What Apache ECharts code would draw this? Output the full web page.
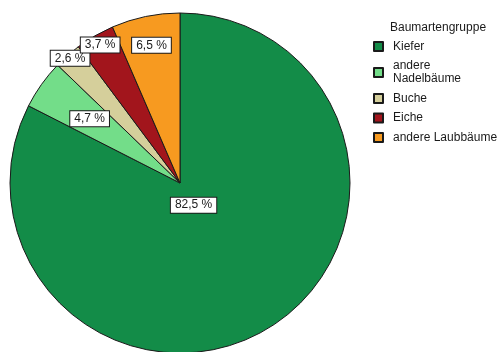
<!DOCTYPE html>
<html>
<head>
<meta charset="utf-8">
<script src="https://cdn.jsdelivr.net/npm/echarts@6/dist/echarts.min.js"></script>
<style>
  html, body { margin: 0; padding: 0; background: #fff; }
  #chart { width: 499px; height: 352px; }
</style>
</head>
<body>
<div id="chart"></div>
<script>
// Tree species group shares (percent)
const categories = ['Kiefer', 'andere Nadelbäume', 'Buche', 'Eiche', 'andere Laubbäume'];
const shares = [82.5, 4.7, 2.6, 3.7, 6.5];
const legendTitle = 'Baumartengruppe';

// Slice colours and how far out (fraction of radius) each value label sits
const sliceColors = ['#138c48', '#73dd89', '#d5cf9b', '#a2151c', '#f79a20'];
const labelReach = [0.135, 0.635, 0.96, 0.92, 0.81];

const R = 170;
const total = shares.reduce((a, b) => a + b, 0);

let acc = 0;
const pieData = categories.map((name, i) => {
  const mid = (acc + shares[i] / 2) / total * 2 * Math.PI; // clockwise from 12 o'clock
  acc += shares[i];
  const shift = (labelReach[i] - 0.5) * R;
  return {
    name: name,
    value: shares[i],
    itemStyle: { color: sliceColors[i] },
    label: { offset: [shift * Math.sin(mid), -shift * Math.cos(mid)] }
  };
});

const chart = echarts.init(document.getElementById('chart'), null, { renderer: 'canvas' });
chart.setOption({
  animation: false,
  backgroundColor: '#fff',
  title: {
    text: legendTitle,
    left: 385,
    top: 17,
    textStyle: { fontFamily: 'Liberation Sans', fontSize: 12, fontWeight: 'normal', color: '#1a1a1a' }
  },
  legend: {
    orient: 'vertical',
    left: 368,
    top: 35,
    icon: 'rect',
    itemWidth: 9,
    itemHeight: 9,
    itemGap: 6.5,
    selectedMode: false,
    data: categories,
    formatter: n => n === 'andere Nadelbäume' ? 'andere\nNadelbäume' : n,
    textStyle: {
      fontFamily: 'Liberation Sans', fontSize: 12, color: '#1a1a1a',
      lineHeight: 13, padding: [0, 0, 0, 5]
    }
  },
  series: [{
    type: 'pie',
    center: [180, 183],
    radius: [0, R],
    startAngle: 90,
    clockwise: true,
    avoidLabelOverlap: false,
    labelLayout: { hideOverlap: false },
    emphasis: { disabled: true },
    itemStyle: { borderColor: '#1a1a1a', borderWidth: 1 },
    labelLine: { show: false },
    label: {
      show: true,
      position: 'inside',
      formatter: p => p.value.toFixed(1).replace('.', ',') + ' %',
      fontFamily: 'Liberation Sans',
      fontSize: 12,
      color: '#1a1a1a',
      backgroundColor: '#fff',
      borderColor: '#1a1a1a',
      borderWidth: 1,
      padding: [1, 4, 1, 4],
      lineHeight: 13
    },
    data: pieData
  }]
});
</script>
</body>
</html>
